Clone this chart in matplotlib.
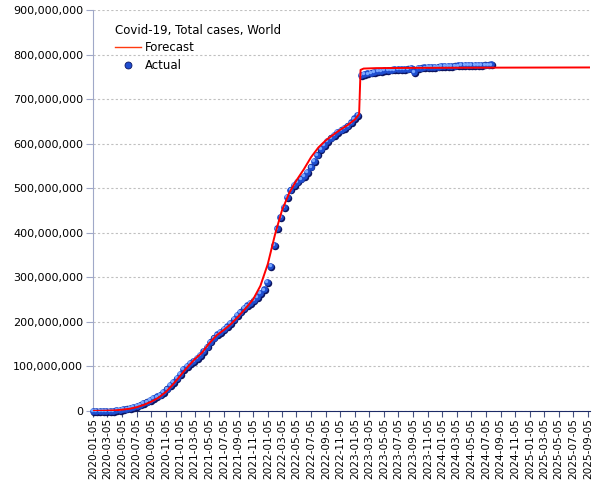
import pandas as pd
import matplotlib.pyplot as plt
import matplotlib.ticker as mticker
from matplotlib.lines import Line2D
from matplotlib.transforms import offset_copy

# actual cumulative cases (millions), every 2 weeks from 2020-01-05
actual_start = "2020-01-05"
actual_m = [
    0.0, 0.0, 0.015, 0.07, 0.09, 0.17, 0.7, 1.8, 2.9, 4.0,
    5.3, 6.8, 8.8, 11.3, 14.3, 17.6, 21.2, 25.0, 28.7, 32.7,
    37.1, 42.6, 50.2, 57.7, 65.5, 74.6, 83.3, 93.5, 101.6, 107.6,
    112.8, 118.9, 126.2, 134.5, 144.8, 155.8, 164.9, 172.0, 177.7, 183.4,
    189.8, 197.6, 206.2, 215.5, 223.3, 231.1, 237.0, 242.5, 249.0, 256.1,
    264.4, 273.0, 289.0, 325.0, 372.0, 410.0, 435.0, 458.0, 480.0, 497.0,
    508.0, 515.0, 522.0, 528.0, 536.0, 549.0, 562.0, 576.0, 588.0, 598.0,
    607.0, 614.0, 620.0, 626.0, 632.0, 636.0, 641.0, 648.0, 657.0, 664.0,
    754.0, 756.0, 758.0, 760.0, 761.5, 763.0, 764.0, 765.0, 766.0, 766.5,
    767.0, 767.5, 768.0, 768.5, 769.0, 769.5, 761.5, 770.5, 771.0, 771.5,
    772.0, 772.5, 773.0, 773.5, 774.0, 774.5, 775.0, 775.3, 775.6, 775.9,
    776.2, 776.5, 776.8, 777.0, 777.2, 777.4, 777.6, 777.8, 778.0, 778.2,
]
actual_dates = pd.date_range(actual_start, periods=len(actual_m), freq="14D")

forecast_dates = pd.to_datetime([
    "2020-01-05", "2020-02-05", "2020-03-05", "2020-04-05", "2020-05-05", "2020-06-05",
    "2020-07-05", "2020-08-05", "2020-09-05", "2020-10-05", "2020-11-05", "2020-12-05",
    "2021-01-05", "2021-02-05", "2021-03-05", "2021-04-05", "2021-05-05", "2021-06-05",
    "2021-07-05", "2021-08-05", "2021-09-05", "2021-10-05", "2021-11-05", "2021-12-05",
    "2022-01-05", "2022-02-05", "2022-03-05", "2022-04-05", "2022-05-05", "2022-06-05",
    "2022-07-05", "2022-08-05", "2022-09-05", "2022-10-05", "2022-11-05", "2022-12-05",
    "2023-01-05", "2023-01-22", "2023-01-28", "2023-02-10", "2023-04-05", "2023-09-05",
    "2024-06-05", "2025-09-12",
])
forecast_m = [
    0.3, 0.5, 0.8, 1.5, 3.0, 5.0,
    8.5, 14, 21, 30, 43, 60,
    80, 100, 116, 131, 152, 170,
    182, 196, 213, 231, 251, 281,
    330, 398, 450, 490, 518, 543,
    570, 592, 608, 620, 632, 642,
    655, 667, 766, 769, 770, 770.5,
    771, 771.5,
]

actual = [v * 1e6 for v in actual_m]
forecast = [v * 1e6 for v in forecast_m]

plt.rcParams["font.family"] = ["DejaVu Sans"]
plt.rcParams["font.size"] = 8

fig = plt.figure(figsize=(6.05, 4.8), dpi=100)
ax = fig.add_axes([0.1537, 0.1437, 0.8213, 0.835])

ax.set_ylim(0, 900e6)
ax.set_xlim(pd.Timestamp("2020-01-05"), pd.Timestamp("2025-09-13"))
ax.yaxis.set_major_locator(mticker.MultipleLocator(100e6))
ax.yaxis.set_major_formatter(mticker.FuncFormatter(lambda v, p: f"{v:,.0f}"))
ax.grid(axis="y", color="#c0c0c0", linestyle=(0, (2, 2)), linewidth=0.8)
ax.set_axisbelow(True)

xt = pd.date_range("2020-01-01", "2025-09-30", freq="2MS") + pd.Timedelta(days=4)
ax.set_xticks(xt)
ax.set_xticklabels([d.strftime("%Y-%m-%d") for d in xt], rotation=90, fontsize=7.6)

for s in ["top", "right"]:
    ax.spines[s].set_visible(False)
ax.spines["left"].set_color("#a0a8c8")
ax.spines["bottom"].set_color("#1c2a66")
ax.tick_params(axis="y", color="#a0a8c8", length=5, pad=2)
ax.tick_params(axis="x", color="#44507f", length=4, pad=1)

# shaded sphere look: dark shadow, blue body, light highlight
shadow = offset_copy(ax.transData, fig=fig, x=0.8, y=-0.8, units="dots")
light = offset_copy(ax.transData, fig=fig, x=-0.9, y=0.9, units="dots")
ax.plot(actual_dates, actual, "o", ms=5.4, color="#0d1560", mec="none",
        transform=shadow, clip_on=False, zorder=3)
ax.plot(actual_dates, actual, "o", ms=4.8, color="#1f4ed0", mec="none",
        clip_on=False, zorder=4)
ax.plot(actual_dates, actual, "o", ms=2.4, color="#79a8ff", mec="none",
        transform=light, clip_on=False, zorder=5)

ax.plot(forecast_dates, forecast, color="#ff0000", lw=1.4, zorder=6)

handles = [
    Line2D([], [], color="#ff3a10", lw=1),
    Line2D([], [], marker="o", ls="none", ms=5, color="#1f4ed0", mec="#0d1560", mew=0.6),
]
leg = ax.legend(handles, ["Forecast", "Actual"], title="Covid-19, Total cases, World",
                loc="upper left", bbox_to_anchor=(0.035, 0.978), frameon=False,
                fontsize=8.5, title_fontsize=8.5, alignment="left",
                handlelength=2.2, handletextpad=0.3, labelspacing=0.4,
                borderaxespad=0)

fig.savefig("out.png", dpi=100)
